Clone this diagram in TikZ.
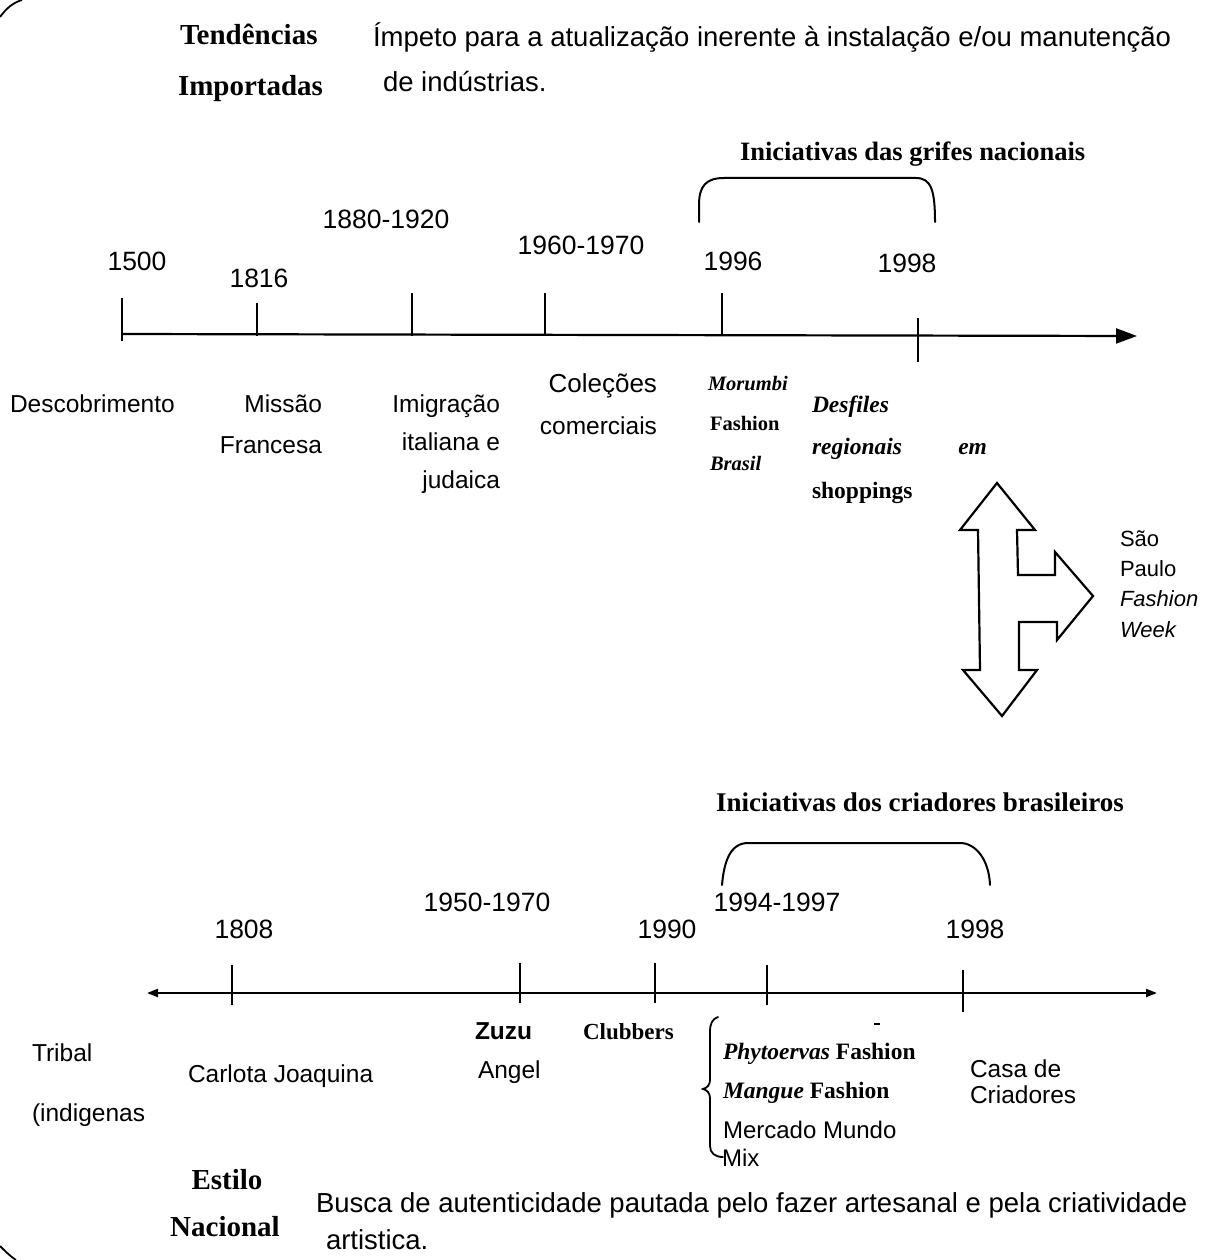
\documentclass[tikz,border=0pt]{standalone}
\usepackage{fontspec}
\setmainfont{Liberation Serif}
\setsansfont{Liberation Sans}
\usetikzlibrary{arrows.meta}
\newcommand\fsz[1]{\fontsize{#1}{#1}\selectfont}
\begin{document}
\begin{tikzpicture}[x=1pt,y=-1pt,
  every node/.style={inner sep=0pt, outer sep=0pt},
  para/.style={font=\sffamily\fsz{27.5}, anchor=base west},
  yr/.style={font=\sffamily\fsz{26.5}, anchor=base},
  lab/.style={font=\sffamily\fsz{24.5}},
  bser/.style={font=\bfseries\fsz{29}},
  ttl/.style={font=\bfseries\fsz{26.5}, anchor=base west},
  ser/.style={font=\bfseries\fsz{23.5}},
  axis/.style={line width=2.2pt},
  tick/.style={line width=2pt},
  brk/.style={line width=2pt, line cap=round},
]
\useasboundingbox[fill=white] (0,0) rectangle (1221,1260);

% border fragments
\draw[line width=1.8pt] (0,17) .. controls (6,9) and (12,3) .. (22,0);
\draw[line width=1.8pt] (0,1246) .. controls (5,1251) and (10,1256) .. (16,1260);

% ---------------- top part ----------------
\node[bser, anchor=base west] (tend) at (180,45) {Tendências};
\node[bser, anchor=base west] (imp) at (178,96) {Importadas};
\node[para] (p1) at (373,47) {Ímpeto para a atualização inerente à instalação e/ou manutenção};
\node[para] (p2) at (383,92) {de indústrias.};

\node[ttl] (grif) at (740,161) {Iniciativas das grifes nacionais};
\draw[brk] (699,222) -- (699,205) .. controls (699,186) and (706,178) .. (724,178)
  -- (916,178) .. controls (931,178) and (935,190) .. (935,222);

% axis
\coordinate (a0) at (122,334);
\coordinate (a1) at (1137,336);
\draw[axis,-{Triangle[length=21pt,width=15pt]}] (a0) -- (a1);
\draw[tick] (122,298) -- (122,341);
\draw[tick] (257,303) -- (257,336);
\draw[tick] (412,293) -- (412,336);
\draw[tick] (545,293) -- (545,336);
\draw[tick] (722,293) -- (722,336);
\draw[tick] (918,318) -- (918,362);

\node[yr] (y1500) at (137,270) {1500};
\node[yr] (y1816) at (259,287) {1816};
\node[yr] (y1880) at (386,228) {1880-1920};
\node[yr] (y1960) at (581,254) {1960-1970};
\node[yr] (y1996) at (733,270) {1996};
\node[yr] (y1998) at (907,272) {1998};

\node[lab, anchor=base west] (desc) at (10,412) {Descobrimento};
\node[lab, anchor=base east] (mis1) at (322,412) {Missão};
\node[lab, anchor=base east] (mis2) at (322,453) {Francesa};
\node[lab, anchor=base east] (im1) at (500,412) {Imigração};
\node[lab, anchor=base east] (im2) at (500,450) {italiana e};
\node[lab, anchor=base east] (im3) at (500,488) {judaica};
\node[lab, anchor=base east, font=\sffamily\fsz{26}] (col1) at (657,392) {Coleções};
\node[lab, anchor=base east] (col2) at (657,434) {comerciais};
\node[ser, anchor=base west, font=\bfseries\itshape\fsz{20.5}] (mor1) at (708,390) {Morumbi};
\node[ser, anchor=base west, font=\bfseries\fsz{20.5}] (mor2) at (710,430) {Fashion};
\node[ser, anchor=base west, font=\bfseries\itshape\fsz{20.5}] (mor3) at (710,470) {Brasil};
\node[ser, anchor=base west, font=\bfseries\itshape\fsz{23.5}] (des1) at (812,412) {Desfiles};
\node[ser, anchor=base west, font=\bfseries\itshape\fsz{23.5}] (des2) at (812,454) {regionais};
\node[ser, anchor=base east, font=\bfseries\itshape\fsz{23.5}] (des3) at (987,454) {em};
\node[ser, anchor=base west] (des4) at (812,498) {shoppings};

% big three-headed arrow
\draw[line width=2.2pt, line join=miter]
  (997,483) -- (1035,530) -- (1017,530) -- (1018,575) -- (1055,575) -- (1055,552)
  -- (1093,596) -- (1057,640) -- (1057,622) -- (1019,622) -- (1019,670)
  -- (1037,670) -- (1002,716) -- (963,670) -- (980,670) -- (978,530)
  -- (960,530) -- cycle;

\node[lab, anchor=base west, font=\sffamily\fsz{22}] (sp1) at (1120,546) {São};
\node[lab, anchor=base west, font=\sffamily\fsz{22}] (sp2) at (1120,576) {Paulo};
\node[lab, anchor=base west, font=\sffamily\itshape\fsz{22}] (sp3) at (1120,606) {Fashion};
\node[lab, anchor=base west, font=\sffamily\itshape\fsz{22}] (sp4) at (1120,637) {Week};

% ---------------- bottom part ----------------
\node[ttl, font=\bfseries\fsz{27}] (cria) at (716,811) {Iniciativas dos criadores brasileiros};
\draw[brk] (722,885) .. controls (724,862) and (730,843) .. (748,843)
  -- (960,843) .. controls (976,843) and (989,860) .. (990,885);

\coordinate (b0) at (147,993);
\coordinate (b1) at (1157,993);
\draw[axis,{Triangle[length=11pt,width=8pt]}-{Triangle[length=11pt,width=8pt]}] (b0) -- (b1);
\draw[tick] (232,965) -- (232,1005);
\draw[tick] (520,963) -- (520,1003);
\draw[tick] (655,963) -- (655,1003);
\draw[tick] (767,965) -- (767,1005);
\draw[tick] (963,970) -- (963,1012);

\node[yr] (y1808) at (244,938) {1808};
\node[yr] (y1950) at (487,911) {1950-1970};
\node[yr] (y1990) at (667,938) {1990};
\node[yr] (y1994) at (777,911) {1994-1997};
\node[yr] (y1998b) at (975,938) {1998};

\node[lab, anchor=base west] (tri1) at (32,1061) {Tribal};
\node[lab, anchor=base west] (tri2) at (32,1121) {(indigenas};
\node[lab, anchor=base west] (carl) at (188,1082) {Carlota Joaquina};
\node[lab, anchor=base west, font=\sffamily\bfseries\fsz{24.5}] (zu1) at (475,1039) {Zuzu};
\node[lab, anchor=base west] (zu2) at (478,1078) {Angel};
\node[ser, anchor=base west, font=\bfseries\fsz{23}] (club) at (583,1039) {Clubbers};

\draw[line width=1.8pt, line cap=round] (718,1017) .. controls (712,1019) and (710,1024) .. (710,1032)
  -- (710,1080) .. controls (710,1085) and (707,1088) .. (703,1089)
  .. controls (707,1090) and (710,1093) .. (710,1098)
  -- (710,1146) .. controls (710,1153) and (715,1157) .. (723,1157);
\draw[line width=1.8pt] (874,1024) -- (880,1024);

\node[ser, anchor=base west] (phy) at (723,1059) {\textit{Phytoervas} Fashion};
\node[ser, anchor=base west] (man) at (723,1098) {\textit{Mangue} Fashion};
\node[lab, anchor=base west, font=\sffamily\fsz{24}] (mer1) at (723,1138) {Mercado Mundo};
\node[lab, anchor=base west, font=\sffamily\fsz{24}] (mer2) at (722,1166) {Mix};
\node[lab, anchor=base west] (cas1) at (970,1077) {Casa de};
\node[lab, anchor=base west] (cas2) at (970,1103) {Criadores};

\node[bser, anchor=base] (est1) at (227,1189) {Estilo};
\node[bser, anchor=base] (est2) at (225,1236) {Nacional};
\node[para] (bus1) at (316,1212) {Busca de autenticidade pautada pelo fazer artesanal e pela criatividade};
\node[para] (bus2) at (326,1249) {artistica.};
\end{tikzpicture}
\end{document}
